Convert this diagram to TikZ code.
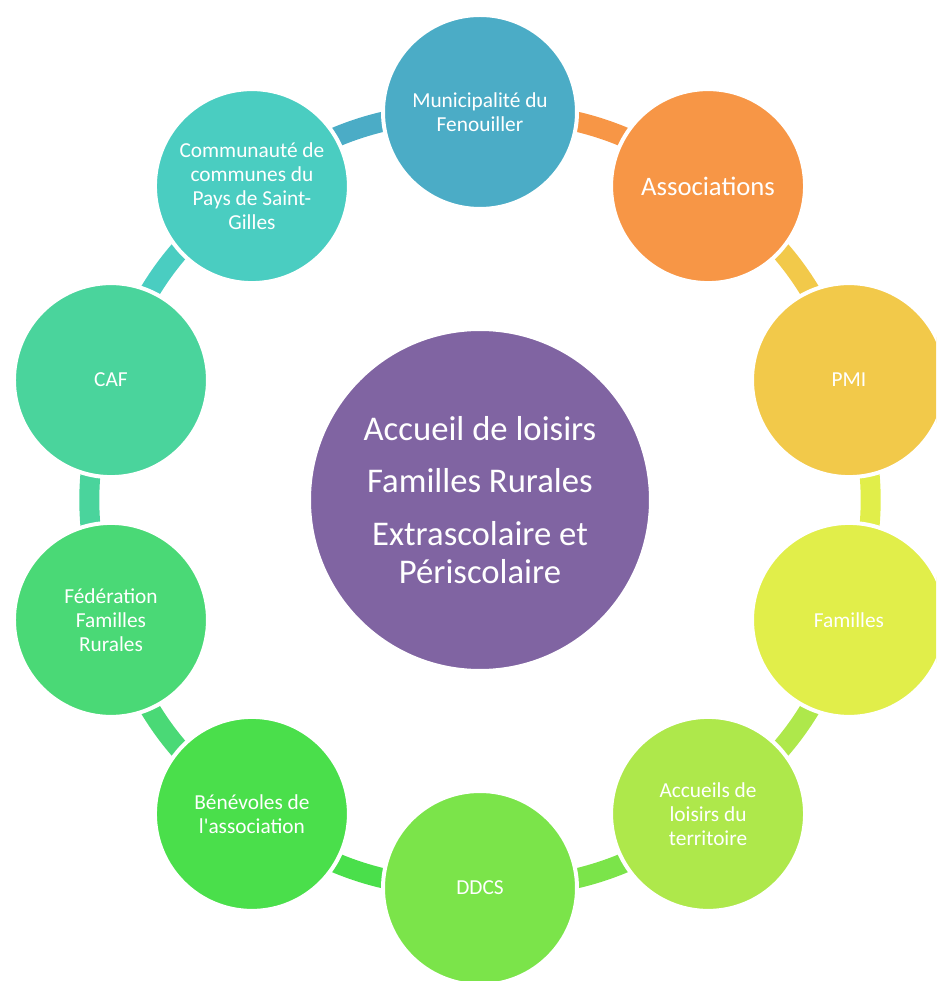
\documentclass[tikz,border=0pt]{standalone}
\usepackage{fontspec}
\setmainfont{Carlito}
\usepackage{xcolor}
\usepackage{tikz}
\usetikzlibrary{shapes,positioning,calc,backgrounds}

\definecolor{colMairie}{HTML}{4BACC6}
\definecolor{colAssoc}{HTML}{F79646}
\definecolor{colPMI}{HTML}{F2C94A}
\definecolor{colFamilles}{HTML}{E1EE4A}
\definecolor{colAccueils}{HTML}{AEE84B}
\definecolor{colDDCS}{HTML}{7BE44A}
\definecolor{colBenevoles}{HTML}{4ADF4B}
\definecolor{colFederation}{HTML}{4AD976}
\definecolor{colCAF}{HTML}{4AD49C}
\definecolor{colComcom}{HTML}{4ACDC1}
\definecolor{colCentre}{HTML}{8064A2}

\begin{document}
\begin{tikzpicture}[x=0.75pt, y=0.75pt,
    satellite/.style={circle, fill=#1, draw=white, line width=3pt, minimum size=145.5pt, inner sep=0pt,
        text=white, align=center, font=\fontsize{16}{18}\selectfont},
    hub/.style={circle, fill=colCentre, draw=white, line width=3pt, minimum size=256.5pt, inner sep=0pt,
        text=white, align=center, font=\fontsize{26}{28.5}\selectfont},
    link/.style={line width=15pt, draw=#1}]

    \useasboundingbox (-480,-481) rectangle (456,500);
    \clip (-480,-481) rectangle (456,500);

    \node[hub] (centre) at (0,0) {Accueil de loisirs\\[11pt] Familles Rurales\\[11pt] Extrascolaire et\\P\'eriscolaire};

    \node[satellite=colMairie] (mairie) at (90:388) {Municipalit\'e du\\Fenouiller};
    \node[satellite=colAssoc, font=\fontsize{20}{22}\selectfont] (assoc) at (54:388) {Associations};
    \node[satellite=colPMI] (pmi) at (18:388) {PMI};
    \node[satellite=colFamilles] (familles) at (-18:388) {Familles};
    \node[satellite=colAccueils] (accueils) at (-54:388) {Accueils de\\loisirs du\\territoire};
    \node[satellite=colDDCS] (ddcs) at (-90:388) {DDCS};
    \node[satellite=colBenevoles] (benevoles) at (-126:388) {B\'en\'evoles de\\l\textquotesingle association};
    \node[satellite=colFederation] (federation) at (-162:388) {F\'ed\'eration\\Familles\\Rurales};
    \node[satellite=colCAF] (caf) at (162:388) {CAF};
    \node[satellite=colComcom] (comcom) at (126:388) {Communaut\'e de\\communes du\\Pays de Saint-\\Gilles};

    % anneau entre les cercles
    \begin{scope}[on background layer]
    \draw[link=colAssoc] (mairie.center) to[bend left=18] (assoc.center);
    \draw[link=colPMI] (assoc.center) to[bend left=18] (pmi.center);
    \draw[link=colFamilles] (pmi.center) to[bend left=18] (familles.center);
    \draw[link=colAccueils] (familles.center) to[bend left=18] (accueils.center);
    \draw[link=colDDCS] (accueils.center) to[bend left=18] (ddcs.center);
    \draw[link=colBenevoles] (ddcs.center) to[bend left=18] (benevoles.center);
    \draw[link=colFederation] (benevoles.center) to[bend left=18] (federation.center);
    \draw[link=colCAF] (federation.center) to[bend left=18] (caf.center);
    \draw[link=colComcom] (caf.center) to[bend left=18] (comcom.center);
    \draw[link=colMairie] (comcom.center) to[bend left=18] (mairie.center);
    \end{scope}
\end{tikzpicture}
\end{document}
